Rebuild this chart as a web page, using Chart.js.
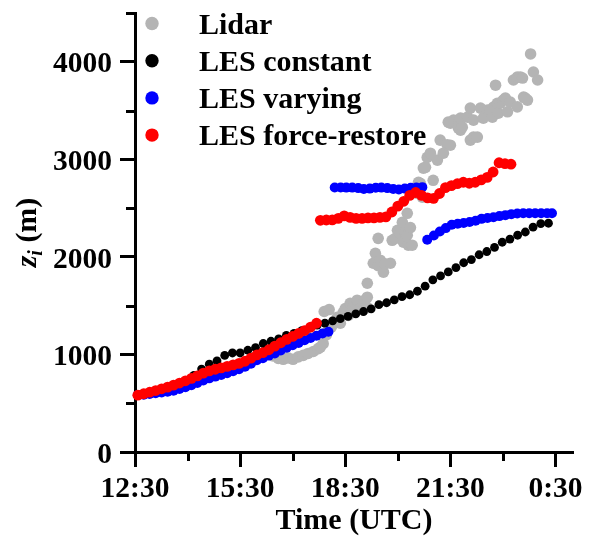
<!DOCTYPE html>
<html>
<head>
<meta charset="utf-8">
<script src="https://cdn.jsdelivr.net/npm/chart.js@4.4.1/dist/chart.umd.min.js"></script>
<style>
html,body{margin:0;padding:0;background:#fff;}
#wrap{width:590px;height:536px;}
</style>
</head>
<body>
<div id="wrap"><canvas id="c" width="590" height="536"></canvas></div>
<script>
// ---- tick labels / axis values (hours, 12.5 = 12:30 UTC, 24.5 = 0:30 next day)
const xTickValues = [12.5, 15.5, 18.5, 21.5, 24.5];
const xTickLabels = ['12:30', '15:30', '18:30', '21:30', '0:30'];
const xMinorTicks = [14, 17, 20, 23];
const yTickValues = [0, 1000, 2000, 3000, 4000];
const yMinorTicks = [500, 1500, 2500, 3500, 4500];
const seriesNames = ['Lidar', 'LES constant', 'LES varying', 'LES force-restore'];

// ---- Lidar
const lidarTime = [16.44,16.59,16.73,16.87,17.01,17.16,17.30,17.44,17.59,17.73,17.79,
  17.87,17.96,18.01,18.10,18.19,17.90,18.04,18.27,18.36,
  18.44,18.50,18.59,18.64,18.73,18.79,18.84,18.93,19.01,19.07,19.13,19.13,
  19.13,19.30,19.36,19.44,19.50,19.59,19.64,19.79,
  19.44,19.84,19.93,19.99,20.07,20.13,20.16,20.21,20.27,20.30,20.27,20.41,20.36,
  20.56,20.59,20.64,20.70,20.73,20.79,20.84,20.93,21.01,21.13,21.21,21.30,21.41,21.50,21.50,21.59,21.44,
  21.73,21.79,21.79,21.84,21.99,22.07,22.07,22.16,22.16,22.27,22.36,22.44,22.56,22.64,22.70,22.73,22.79,22.84,22.87,22.93,23.01,23.07,23.13,23.21,23.41,
  23.30,23.41,23.50,23.56,23.59,23.64,23.70,23.79,23.87,23.99];
const lidarZi = [985,960,950,965,950,975,990,1010,1030,1060,1074,
  1110,1200,1250,1280,1320,1440,1460,1380,1320,
  1430,1470,1400,1525,1480,1450,1556,1474,1520,1560,1587,1480,
  1730,1935,2037,1910,1966,1843,1930,1935,
  2190,2170,2190,2273,2240,2355,2150,2253,2222,2120,2447,2120,2300,
  2652,2765,2755,2612,2910,2918,3020,3063,2785,2992,3197,3063,3150,3145,3371,3402,3381,
  3320,3299,3422,3330,3433,3525,3197,3228,3402,3228,3525,3422,3505,3505,3433,3535,3760,3575,3474,3575,3607,3627,3487,3586,3538,
  3813,3843,3843,3833,3638,3627,3607,4080,3895,3813];

// ---- LES constant
const constTime = [12.64,12.86,13.08,13.30,13.52,13.74,13.96,14.18,14.40,14.62,14.84,15.06,15.28,15.50,15.72,15.94,16.16,16.38,16.60,16.82,17.04,17.26,17.48,17.70,17.92,18.14,18.36,18.58,18.80,19.02,19.24,19.46,19.68,19.90,20.12,20.34,20.56,20.78,21.00,21.22,21.44,21.66,21.88,22.10,22.32,22.54,22.76,22.98,23.20,23.42,23.64,23.86,24.08,24.30];
const constZi = [585,598,615,640,665,695,730,785,850,900,935,990,1015,1015,1043,1070,1112,1135,1160,1195,1215,1245,1270,1300,1322,1345,1368,1390,1415,1440,1468,1510,1530,1560,1592,1612,1648,1700,1765,1805,1846,1890,1940,1972,2022,2055,2097,2150,2183,2222,2255,2305,2340,2345];

// ---- LES varying
const varyTime = [12.58,12.75,12.92,13.09,13.26,13.43,13.60,13.77,13.94,14.11,14.28,14.45,14.62,14.79,14.96,15.13,15.30,15.47,15.64,15.81,15.98,16.15,16.32,16.49,16.66,16.83,17.00,17.17,17.34,17.51,17.68,17.85,18.02,
  18.20,18.37,18.53,18.70,18.87,19.03,19.20,19.37,19.53,19.70,19.87,20.03,20.20,20.37,20.53,20.70,
  20.84,21.03,21.20,21.37,21.54,21.71,21.88,22.05,22.22,22.39,22.56,22.73,22.90,23.07,23.24,23.41,23.58,23.75,23.92,24.09,24.26,24.40];
const varyZi = [585,588,595,602,610,617,628,645,663,685,707,732,755,773,790,808,827,848,873,905,940,962,988,1010,1040,1068,1095,1118,1145,1168,1192,1215,1232,
  2712,2712,2710,2710,2705,2695,2700,2708,2710,2705,2695,2690,2700,2708,2712,2715,
  2175,2220,2260,2295,2330,2340,2348,2358,2370,2390,2398,2407,2418,2428,2438,2445,2447,2447,2447,2447,2447,2447];

// ---- LES force-restore
const forceTime = [12.58,12.75,12.92,13.09,13.26,13.43,13.60,13.77,13.94,14.11,14.28,14.45,14.62,14.79,14.96,15.13,15.30,15.47,15.64,15.81,15.98,16.15,16.32,16.49,16.66,16.83,17.00,17.17,17.34,17.51,17.68,
  17.79,17.96,18.13,18.30,18.47,18.64,18.81,18.98,19.15,19.32,19.49,19.66,19.83,20.00,20.17,20.34,20.51,20.68,20.85,21.02,21.19,21.36,21.53,21.70,21.87,22.04,22.21,22.38,22.55,22.72,22.89,23.06,23.23];
const forceZi = [582,597,613,630,648,665,685,707,730,755,781,808,832,848,862,878,893,908,930,962,995,1018,1048,1085,1120,1155,1185,1215,1245,1280,1320,
  2375,2378,2380,2395,2420,2405,2395,2395,2400,2400,2405,2410,2460,2520,2570,2630,2660,2630,2605,2600,2650,2710,2730,2750,2765,2755,2765,2790,2815,2870,2965,2955,2950];

const seriesColors = ['#b4b4b4', '#000000', '#0000ff', '#ff0000'];

function pts(t, z) { return t.map((v, i) => ({x: v, y: z[i]})); }

const FAMILY = '"Liberation Serif", "Times New Roman", serif';
const tickFont = {family: FAMILY, size: 29.5, weight: 'bold'};

const extras = {
  id: 'extras',
  afterDraw(chart) {
    const ctx = chart.ctx;
    const xs = chart.scales.x, ys = chart.scales.y;
    const area = chart.chartArea;
    ctx.save();
    // minor ticks
    ctx.strokeStyle = '#000';
    ctx.lineWidth = 3;
    xMinorTicks.forEach(v => {
      const px = Math.round(xs.getPixelForValue(v)) + 0.5;
      ctx.beginPath(); ctx.moveTo(px, area.bottom); ctx.lineTo(px, area.bottom + 9); ctx.stroke();
    });
    yMinorTicks.forEach(v => {
      const py = Math.round(ys.getPixelForValue(v)) + 0.5;
      ctx.beginPath(); ctx.moveTo(area.left, py); ctx.lineTo(area.left - 9, py); ctx.stroke();
    });
    // y-axis title: z_i (m)
    ctx.fillStyle = '#000';
    ctx.save();
    ctx.translate(36, (area.top + area.bottom) / 2);
    ctx.rotate(-Math.PI / 2);
    const fZ = 'italic bold 30px ' + FAMILY;
    const fSub = 'italic bold 20px ' + FAMILY;
    const fMain = 'bold 30px ' + FAMILY;
    ctx.font = fZ; const wz = ctx.measureText('z').width;
    ctx.font = fSub; const wi = ctx.measureText('i').width;
    ctx.font = fMain; const wr = ctx.measureText(' (m)').width;
    let x0 = -(wz + wi + wr) / 2;
    ctx.textAlign = 'left'; ctx.textBaseline = 'alphabetic';
    ctx.font = fZ; ctx.fillText('z', x0, 0); x0 += wz;
    ctx.font = fSub; ctx.fillText('i', x0, 6); x0 += wi;
    ctx.font = fMain; ctx.fillText(' (m)', x0, 0);
    ctx.restore();
    // legend
    chart.data.datasets.forEach((ds, i) => {
      const cy = 23.5 + i * 37.2;
      ctx.beginPath();
      ctx.fillStyle = ds.backgroundColor;
      ctx.arc(152, cy, 6.7, 0, Math.PI * 2);
      ctx.fill();
      ctx.fillStyle = '#000';
      ctx.font = 'bold 30px ' + FAMILY;
      ctx.textAlign = 'left'; ctx.textBaseline = 'alphabetic';
      ctx.fillText(ds.label, 199, cy + 10);
    });
    ctx.restore();
  }
};

new Chart(document.getElementById('c'), {
  type: 'scatter',
  data: {
    datasets: [
      {label: seriesNames[0], data: pts(lidarTime, lidarZi), backgroundColor: seriesColors[0], borderWidth: 0, pointRadius: 5.8, order: 4, clip: false},
      {label: seriesNames[1], data: pts(constTime, constZi), backgroundColor: seriesColors[1], borderWidth: 0, pointRadius: 4.4, order: 3, clip: false},
      {label: seriesNames[2], data: pts(varyTime, varyZi), backgroundColor: seriesColors[2], borderWidth: 0, pointRadius: 5, order: 2, clip: false},
      {label: seriesNames[3], data: pts(forceTime, forceZi), backgroundColor: seriesColors[3], borderWidth: 0, pointRadius: 5.4, order: 1, clip: false}
    ]
  },
  options: {
    responsive: false,
    animation: false,
    devicePixelRatio: 1,
    layout: {padding: {left: 0, right: 17, top: 13, bottom: 0}},
    plugins: {legend: {display: false}, tooltip: {enabled: false}},
    elements: {point: {hoverRadius: 0}},
    scales: {
      x: {
        type: 'linear', min: 12.5, max: 25,
        afterBuildTicks: s => { s.ticks = xTickValues.map(v => ({value: v})); },
        afterFit: s => { s.height = 84; s.paddingLeft = 0; s.paddingRight = 0; },
        ticks: {
          callback: (v, i) => xTickLabels[i],
          font: tickFont, color: '#000', padding: 5, maxRotation: 0, autoSkip: false
        },
        grid: {drawOnChartArea: false, drawTicks: true, tickLength: 15, tickWidth: 3, tickColor: '#000'},
        border: {display: true, width: 3, color: '#000'},
        title: {display: true, text: 'Time (UTC)', color: '#000', font: {family: FAMILY, size: 30, weight: 'bold', lineHeight: 1}, padding: {top: 0, bottom: 0}}
      },
      y: {
        type: 'linear', min: 0, max: 4500,
        afterBuildTicks: s => { s.ticks = yTickValues.map(v => ({value: v})); },
        afterFit: s => { s.width = 135; s.paddingTop = 0; s.paddingBottom = 0; },
        ticks: {
          callback: v => String(v),
          font: tickFont, color: '#000', padding: 8, labelOffset: 3, autoSkip: false
        },
        grid: {drawOnChartArea: false, drawTicks: true, tickLength: 15, tickWidth: 3, tickColor: '#000'},
        border: {display: true, width: 3, color: '#000'},
        title: {display: false}
      }
    }
  },
  plugins: [extras]
});
</script>
</body>
</html>
